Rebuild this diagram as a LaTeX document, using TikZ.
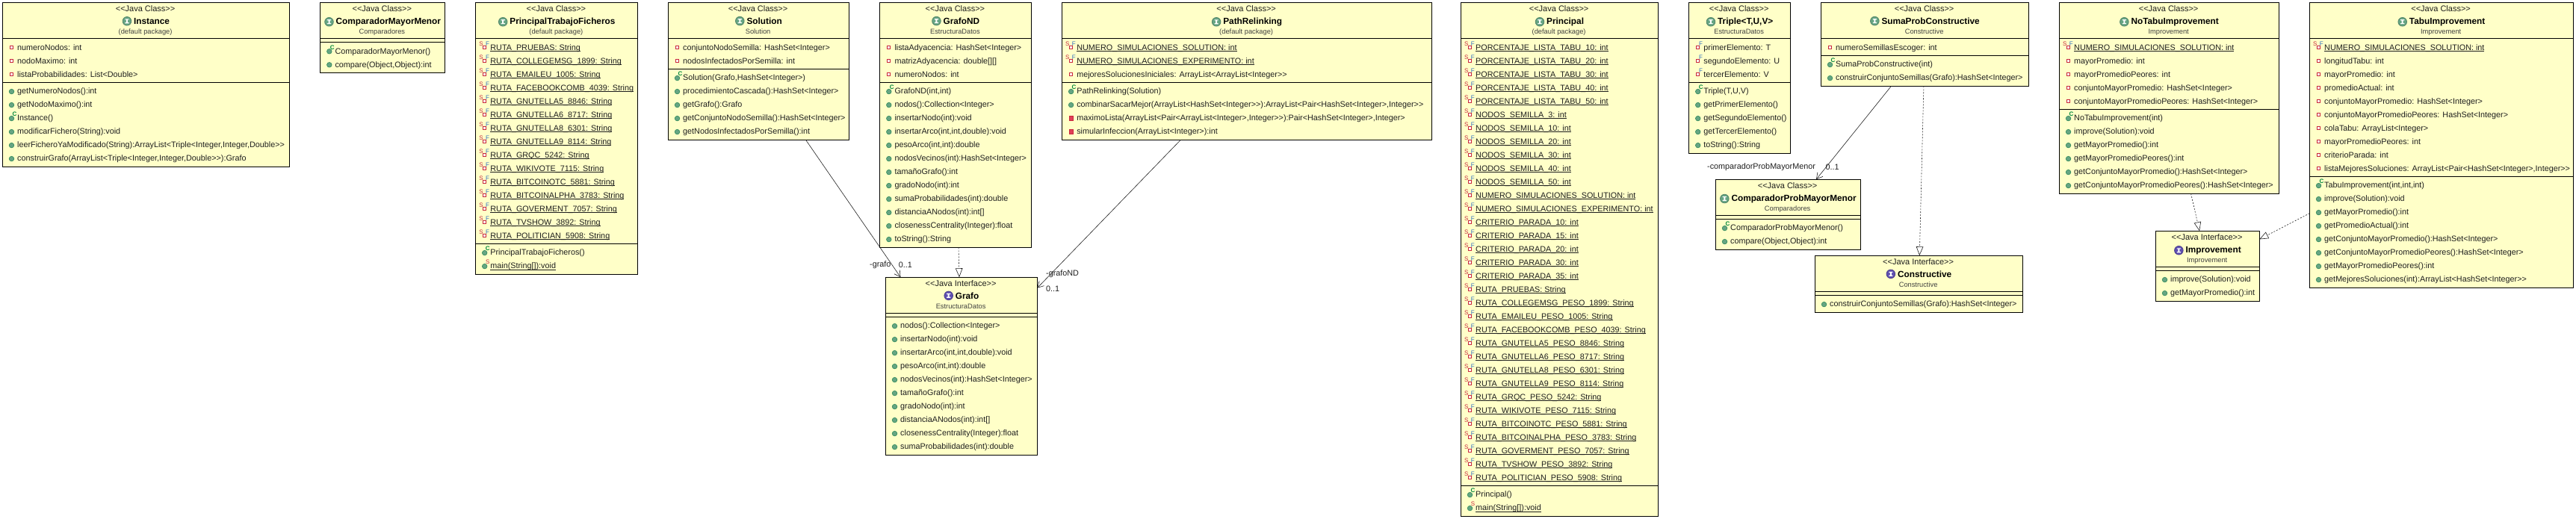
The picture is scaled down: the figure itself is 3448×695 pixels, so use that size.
\documentclass[tikz,border=0pt]{standalone}
\usepackage{fontspec}
\newfontfamily\uml{Liberation Sans}
\usetikzlibrary{arrows.meta}
\definecolor{fondo}{HTML}{FFFFC8}
\definecolor{tinta}{HTML}{1E1E1E}
\definecolor{verde}{HTML}{66A583}
\definecolor{verdeb}{HTML}{2F8B5B}
\definecolor{verdec}{HTML}{00883C}
\definecolor{rojo}{HTML}{C8283C}
\definecolor{rojob}{HTML}{E04058}
\definecolor{azul}{HTML}{3070C0}
\definecolor{morado}{HTML}{5F4FB0}
\tikzset{
	clase/.style={draw=black,line width=0.9pt,fill=fondo,anchor=north west,inner sep=0,outer sep=0},
	estereo/.style={anchor=base,inner sep=0,text=tinta,font=\uml\fontsize{11}{13}\selectfont},
	titulo/.style={anchor=base,inner sep=0,text=black,font=\uml\bfseries\fontsize{11.8}{14}\selectfont},
	paquete/.style={anchor=base,inner sep=0,text=tinta!85,font=\uml\fontsize{9.3}{11}\selectfont},
	fila/.style={anchor=base west,inner sep=0,text=tinta,font=\uml\fontsize{10.8}{13}\selectfont},
	letra/.style={inner sep=0,font=\uml\fontsize{8}{8}\selectfont},
	rotulo/.style={anchor=base west,inner sep=0,text=tinta,font=\uml\fontsize{10.8}{13}\selectfont},
	asocia/.style={draw=tinta,line width=0.6pt,-{Straight Barb[length=8pt,width=9pt]}},
	realiza/.style={draw=tinta,line width=0.6pt,dash pattern=on 2pt off 2pt,-{Triangle[open,fill=white,length=12pt,width=9.5pt,line width=0.6pt]}}
}
% Iconos de las filas
\newcommand{\icopub}{\filldraw[fill=verde,draw=verdeb,line width=0.6pt] (0,0) circle (3.3);}
\newcommand{\icopriv}{\filldraw[fill=white,draw=rojo,line width=1.1pt] (-1.9,-1.9) rectangle (1.9,1.9);}
\newcommand{\icoprivm}{\filldraw[fill=rojob,draw=rojo,line width=0.6pt] (-2.6,-2.8) rectangle (2.6,2.8);}
\newcommand{\icoctor}{\icopub\node[letra,text=verdec,font=\uml\bfseries\fontsize{8}{8}\selectfont] (\nomfila-C) at (4,-5.5) {C};}
\newcommand{\icostat}{\icopub\node[letra,text=rojo] (\nomfila-S) at (4,-5.5) {S};}
\newcommand{\icoprivf}{\icopriv\node[letra,text=azul] (\nomfila-F) at (3.8,-4.7) {F};}
\newcommand{\icosf}{\icopriv\node[letra,text=rojo] (\nomfila-S) at (-4.7,-4.7) {S};\node[letra,text=azul] (\nomfila-F) at (3.8,-4.7) {F};}
% Subrayado de los miembros estaticos
\newcommand{\est}[1]{\underline{\smash{#1}}}
% Cabecera: caja, tipo, icono, nombre, paquete
\newcommand{\cabecera}[5]{
	\begin{scope}[shift={(#1.north)}]
		\node[estereo] (#1-e) at (-0.7,12.2) {<<Java #2>>};
		\node[titulo] (#1-t) at (7.8,28.8) {#4};
		\node[paquete] (#1-p) at (-0.7,42.5) {#5};
	\end{scope}
	\begin{scope}[shift={([xshift=-9pt]#1-t.west)}]
		\filldraw[fill=#3,draw=#3!80!black,line width=0.8pt] (0,0) circle (5.8);
		\ifx#3verde
			\draw[white,line width=1.5pt] (2.45,-2.06) arc[start angle=-40,end angle=-320,radius=3.2];
		\else
			\fill[white] (-2.6,-3) rectangle (2.6,-1.8) (-1,-1.8) rectangle (1,1.8) (-2.6,1.8) rectangle (2.6,3);
		\fi
	\end{scope}
}
% Linea entre compartimentos: caja, altura
\newcommand{\separa}[2]{
	\draw[black,line width=0.9pt] ([yshift=-#2pt]#1.north west) -- ([yshift=-#2pt]#1.north east);
}
% Compartimento: caja, marca, altura de la linea, filas
\newcommand{\compart}[4]{
	\separa{#1}{#3}
	\begin{scope}[shift={(#1.north west)}]
		\foreach \icono/\texto [count=\i] in {#4}{
			\pgfmathsetmacro\yf{#3+15.6+18*(\i-1)}
			\def\nomfila{#1-#2\i}
			\node[fila] (\nomfila) at (19.7,\yf) {\texto};
			\begin{scope}[shift={(12.2,\yf-3.3)}]
				\csname ico\icono\endcsname
			\end{scope}
		}
	\end{scope}
}
\begin{document}
\begin{tikzpicture}[x=1pt,y=-1pt]
	\useasboundingbox (0,0) rectangle (3448,695);
	% Cajas
	\node[clase,minimum width=384,minimum height=220] (instance) at (3.3,3.5) {};
	\node[clase,minimum width=166.9,minimum height=93.8] (compmayor) at (428.6,3.5) {};
	\node[clase,minimum width=217.2,minimum height=364.2] (ptficheros) at (636.5,3.5) {};
	\node[clase,minimum width=242,minimum height=183.8] (solution) at (894.3,3.5) {};
	\node[clase,minimum width=203,minimum height=327.8] (grafond) at (1177.6,3.5) {};
	\node[clase,minimum width=494.9,minimum height=183.8] (pathrel) at (1421.4,3.5) {};
	\node[clase,minimum width=203,minimum height=238] (grafo) at (1185.3,371.3) {};
	\node[clase,minimum width=264,minimum height=687.8] (principal) at (1955.3,3.5) {};
	\node[clase,minimum width=135.8,minimum height=201.8] (triple) at (2260.5,3.5) {};
	\node[clase,minimum width=278,minimum height=111.8] (sumaprob) at (2437.3,3.5) {};
	\node[clase,minimum width=194,minimum height=94] (compprob) at (2296.3,240.3) {};
	\node[clase,minimum width=278,minimum height=76] (constructive) at (2429.3,342.3) {};
	\node[clase,minimum width=294,minimum height=255.8] (notabu) at (2756.3,3.5) {};
	\node[clase,minimum width=139,minimum height=94] (improvement) at (2885.3,309.3) {};
	\node[clase,minimum width=353,minimum height=381.8] (tabu) at (3091.3,3.5) {};
	% Instance
	\cabecera{instance}{Class}{verde}{Instance}{(default package)}
	\compart{instance}{a}{48}{priv/numeroNodos: int,priv/nodoMaximo: int,priv/listaProbabilidades: List<Double>}
	\compart{instance}{m}{106.8}{pub/getNumeroNodos():int,pub/getNodoMaximo():int,ctor/Instance(),pub/modificarFichero(String):void,pub/{leerFicheroYaModificado(String):ArrayList<Triple<Integer,Integer,Double>>},pub/{construirGrafo(ArrayList<Triple<Integer,Integer,Double>>):Grafo}}
	% ComparadorMayorMenor
	\cabecera{compmayor}{Class}{verde}{ComparadorMayorMenor}{Comparadores}
	\separa{compmayor}{48}
	\compart{compmayor}{m}{53}{ctor/ComparadorMayorMenor(),pub/{compare(Object,Object):int}}
	% PrincipalTrabajoFicheros
	\cabecera{ptficheros}{Class}{verde}{PrincipalTrabajoFicheros}{(default package)}
	\compart{ptficheros}{a}{48}{sf/\est{RUTA\_PRUEBAS: String},sf/\est{RUTA\_COLLEGEMSG\_1899: String},sf/\est{RUTA\_EMAILEU\_1005: String},sf/\est{RUTA\_FACEBOOKCOMB\_4039: String},sf/\est{RUTA\_GNUTELLA5\_8846: String},sf/\est{RUTA\_GNUTELLA6\_8717: String},sf/\est{RUTA\_GNUTELLA8\_6301: String},sf/\est{RUTA\_GNUTELLA9\_8114: String},sf/\est{RUTA\_GRQC\_5242: String},sf/\est{RUTA\_WIKIVOTE\_7115: String},sf/\est{RUTA\_BITCOINOTC\_5881: String},sf/\est{RUTA\_BITCOINALPHA\_3783: String},sf/\est{RUTA\_GOVERMENT\_7057: String},sf/\est{RUTA\_TVSHOW\_3892: String},sf/\est{RUTA\_POLITICIAN\_5908: String}}
	\compart{ptficheros}{m}{322.8}{ctor/PrincipalTrabajoFicheros(),stat/\est{main(String[]):void}}
	% Solution
	\cabecera{solution}{Class}{verde}{Solution}{Solution}
	\compart{solution}{a}{48}{priv/conjuntoNodoSemilla: HashSet<Integer>,priv/nodosInfectadosPorSemilla: int}
	\compart{solution}{m}{88.8}{ctor/{Solution(Grafo,HashSet<Integer>)},pub/procedimientoCascada():HashSet<Integer>,pub/getGrafo():Grafo,pub/getConjuntoNodoSemilla():HashSet<Integer>,pub/getNodosInfectadosPorSemilla():int}
	% GrafoND
	\cabecera{grafond}{Class}{verde}{GrafoND}{EstructuraDatos}
	\compart{grafond}{a}{48}{priv/listaAdyacencia: HashSet<Integer>,priv/matrizAdyacencia: double[][],priv/numeroNodos: int}
	\compart{grafond}{m}{106.8}{ctor/{GrafoND(int,int)},pub/nodos():Collection<Integer>,pub/insertarNodo(int):void,pub/{insertarArco(int,int,double):void},pub/{pesoArco(int,int):double},pub/nodosVecinos(int):HashSet<Integer>,pub/tamañoGrafo():int,pub/gradoNodo(int):int,pub/sumaProbabilidades(int):double,pub/distanciaANodos(int):int[],pub/closenessCentrality(Integer):float,pub/toString():String}
	% PathRelinking
	\cabecera{pathrel}{Class}{verde}{PathRelinking}{(default package)}
	\compart{pathrel}{a}{48}{sf/\est{NUMERO\_SIMULACIONES\_SOLUTION: int},sf/\est{NUMERO\_SIMULACIONES\_EXPERIMENTO: int},priv/mejoresSolucionesIniciales: ArrayList<ArrayList<Integer>>}
	\compart{pathrel}{m}{106.8}{ctor/PathRelinking(Solution),pub/{combinarSacarMejor(ArrayList<HashSet<Integer>>):ArrayList<Pair<HashSet<Integer>,Integer>>},privm/{maximoLista(ArrayList<Pair<ArrayList<Integer>,Integer>>):Pair<HashSet<Integer>,Integer>},privm/simularInfeccion(ArrayList<Integer>):int}
	% Grafo
	\cabecera{grafo}{Interface}{morado}{Grafo}{EstructuraDatos}
	\separa{grafo}{48}
	\compart{grafo}{m}{53}{pub/nodos():Collection<Integer>,pub/insertarNodo(int):void,pub/{insertarArco(int,int,double):void},pub/{pesoArco(int,int):double},pub/nodosVecinos(int):HashSet<Integer>,pub/tamañoGrafo():int,pub/gradoNodo(int):int,pub/distanciaANodos(int):int[],pub/closenessCentrality(Integer):float,pub/sumaProbabilidades(int):double}
	% Principal
	\cabecera{principal}{Class}{verde}{Principal}{(default package)}
	\compart{principal}{a}{48}{sf/\est{PORCENTAJE\_LISTA\_TABU\_10: int},sf/\est{PORCENTAJE\_LISTA\_TABU\_20: int},sf/\est{PORCENTAJE\_LISTA\_TABU\_30: int},sf/\est{PORCENTAJE\_LISTA\_TABU\_40: int},sf/\est{PORCENTAJE\_LISTA\_TABU\_50: int},sf/\est{NODOS\_SEMILLA\_3: int},sf/\est{NODOS\_SEMILLA\_10: int},sf/\est{NODOS\_SEMILLA\_20: int},sf/\est{NODOS\_SEMILLA\_30: int},sf/\est{NODOS\_SEMILLA\_40: int},sf/\est{NODOS\_SEMILLA\_50: int},sf/\est{NUMERO\_SIMULACIONES\_SOLUTION: int},sf/\est{NUMERO\_SIMULACIONES\_EXPERIMENTO: int},sf/\est{CRITERIO\_PARADA\_10: int},sf/\est{CRITERIO\_PARADA\_15: int},sf/\est{CRITERIO\_PARADA\_20: int},sf/\est{CRITERIO\_PARADA\_30: int},sf/\est{CRITERIO\_PARADA\_35: int},sf/\est{RUTA\_PRUEBAS: String},sf/\est{RUTA\_COLLEGEMSG\_PESO\_1899: String},sf/\est{RUTA\_EMAILEU\_PESO\_1005: String},sf/\est{RUTA\_FACEBOOKCOMB\_PESO\_4039: String},sf/\est{RUTA\_GNUTELLA5\_PESO\_8846: String},sf/\est{RUTA\_GNUTELLA6\_PESO\_8717: String},sf/\est{RUTA\_GNUTELLA8\_PESO\_6301: String},sf/\est{RUTA\_GNUTELLA9\_PESO\_8114: String},sf/\est{RUTA\_GRQC\_PESO\_5242: String},sf/\est{RUTA\_WIKIVOTE\_PESO\_7115: String},sf/\est{RUTA\_BITCOINOTC\_PESO\_5881: String},sf/\est{RUTA\_BITCOINALPHA\_PESO\_3783: String},sf/\est{RUTA\_GOVERMENT\_PESO\_7057: String},sf/\est{RUTA\_TVSHOW\_PESO\_3892: String},sf/\est{RUTA\_POLITICIAN\_PESO\_5908: String}}
	\compart{principal}{m}{646.8}{ctor/Principal(),stat/\est{main(String[]):void}}
	% Triple
	\cabecera{triple}{Class}{verde}{Triple<T,U,V>}{EstructuraDatos}
	\compart{triple}{a}{48}{privf/primerElemento: T,privf/segundoElemento: U,privf/tercerElemento: V}
	\compart{triple}{m}{106.8}{ctor/{Triple(T,U,V)},pub/getPrimerElemento(),pub/getSegundoElemento(),pub/getTercerElemento(),pub/toString():String}
	% SumaProbConstructive
	\cabecera{sumaprob}{Class}{verde}{SumaProbConstructive}{Constructive}
	\compart{sumaprob}{a}{48}{priv/numeroSemillasEscoger: int}
	\compart{sumaprob}{m}{70.8}{ctor/SumaProbConstructive(int),pub/construirConjuntoSemillas(Grafo):HashSet<Integer>}
	% ComparadorProbMayorMenor
	\cabecera{compprob}{Class}{verde}{ComparadorProbMayorMenor}{Comparadores}
	\separa{compprob}{48}
	\compart{compprob}{m}{53}{ctor/ComparadorProbMayorMenor(),pub/{compare(Object,Object):int}}
	% Constructive
	\cabecera{constructive}{Interface}{morado}{Constructive}{Constructive}
	\separa{constructive}{48}
	\compart{constructive}{m}{53}{pub/construirConjuntoSemillas(Grafo):HashSet<Integer>}
	% NoTabuImprovement
	\cabecera{notabu}{Class}{verde}{NoTabuImprovement}{Improvement}
	\compart{notabu}{a}{48}{sf/\est{NUMERO\_SIMULACIONES\_SOLUTION: int},priv/mayorPromedio: int,priv/mayorPromedioPeores: int,priv/conjuntoMayorPromedio: HashSet<Integer>,priv/conjuntoMayorPromedioPeores: HashSet<Integer>}
	\compart{notabu}{m}{142.8}{ctor/NoTabuImprovement(int),pub/improve(Solution):void,pub/getMayorPromedio():int,pub/getMayorPromedioPeores():int,pub/getConjuntoMayorPromedio():HashSet<Integer>,pub/getConjuntoMayorPromedioPeores():HashSet<Integer>}
	% Improvement
	\cabecera{improvement}{Interface}{morado}{Improvement}{Improvement}
	\separa{improvement}{48}
	\compart{improvement}{m}{53}{pub/improve(Solution):void,pub/getMayorPromedio():int}
	% TabuImprovement
	\cabecera{tabu}{Class}{verde}{TabuImprovement}{Improvement}
	\compart{tabu}{a}{48}{sf/\est{NUMERO\_SIMULACIONES\_SOLUTION: int},priv/longitudTabu: int,priv/mayorPromedio: int,priv/promedioActual: int,priv/conjuntoMayorPromedio: HashSet<Integer>,priv/conjuntoMayorPromedioPeores: HashSet<Integer>,priv/colaTabu: ArrayList<Integer>,priv/mayorPromedioPeores: int,priv/criterioParada: int,priv/{listaMejoresSoluciones: ArrayList<Pair<HashSet<Integer>,Integer>>}}
	\compart{tabu}{m}{232.8}{ctor/{TabuImprovement(int,int,int)},pub/improve(Solution):void,pub/getMayorPromedio():int,pub/getPromedioActual():int,pub/getConjuntoMayorPromedio():HashSet<Integer>,pub/getConjuntoMayorPromedioPeores():HashSet<Integer>,pub/getMayorPromedioPeores():int,pub/getMejoresSoluciones(int):ArrayList<HashSet<Integer>>}
	% Conectores
	\draw[asocia] (solution) -- (grafo);
	\draw[asocia] (pathrel) -- (grafo);
	\draw[asocia] (sumaprob) -- (compprob);
	\draw[realiza] (grafond) -- (grafo);
	\draw[realiza] (sumaprob) -- (constructive);
	\draw[realiza] (notabu) -- (improvement);
	\draw[realiza] (tabu) -- (improvement);
	% Rotulos
	\node[rotulo] (r-grafo) at (1164,357.7) {-grafo};
	\node[rotulo] (m-grafo) at (1202.7,358.3) {0..1};
	\node[rotulo] (r-grafond) at (1400,369) {-grafoND};
	\node[rotulo] (m-grafond) at (1400,390) {0..1};
	\node[rotulo] (r-comp) at (2285,227) {-comparadorProbMayorMenor};
	\node[rotulo] (m-comp) at (2443.3,228) {0..1};
\end{tikzpicture}
\end{document}
